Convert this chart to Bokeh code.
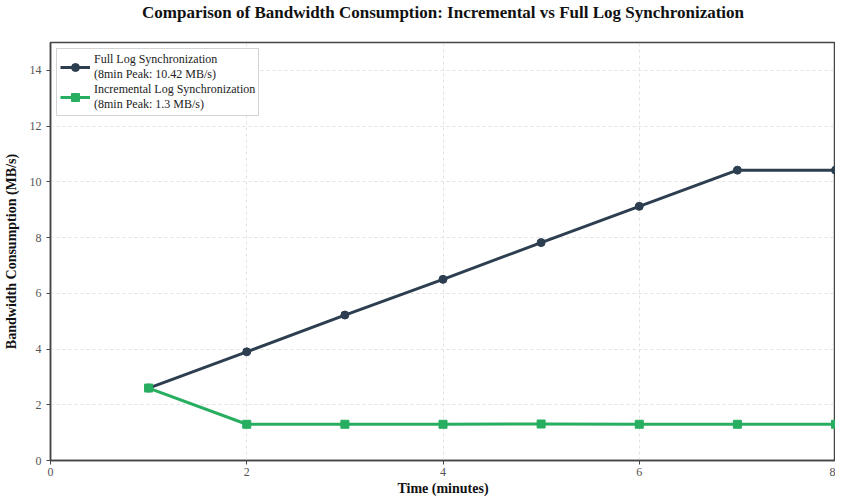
from bokeh.plotting import figure
from bokeh.models import Range1d, FixedTicker, Legend, LegendItem, Title
from bokeh.embed import file_html
from bokeh.resources import INLINE

minutes = [1, 2, 3, 4, 5, 6, 7, 8]
full_sync = [2.6, 3.9, 5.22, 6.5, 7.82, 9.12, 10.42, 10.42]
incremental_sync = [2.6, 1.3, 1.3, 1.3, 1.31, 1.3, 1.3, 1.3]
x_ticks = [0, 2, 4, 6, 8]
y_ticks = [0, 2, 4, 6, 8, 10, 12, 14]
title_text = "Comparison of Bandwidth Consumption: Incremental vs Full Log Synchronization"

FONT = "Liberation Serif"
NAVY = "#2c3e50"
GREEN = "#27ae60"

p = figure(width=835, height=498, output_backend="svg", toolbar_location=None,
           x_range=Range1d(0, 8), y_range=Range1d(0, 15),
           min_border_left=42, min_border_right=0, min_border_top=0, min_border_bottom=30)
p.title_location = None

spacer = Title(text=" ", text_font_size="12px", standoff=5)
p.add_layout(spacer, "above")
main_title = Title(text=title_text, align="center", text_font=FONT, text_font_size="17px",
                   text_font_style="bold", text_color="#111111", standoff=0, offset=0)
p.add_layout(main_title, "above")

p.outline_line_color = "#444444"
p.outline_line_width = 1.5

for ax in (p.xaxis[0], p.yaxis[0]):
    ax.axis_label_text_font = FONT
    ax.axis_label_text_font_style = "bold"
    ax.axis_label_text_font_size = "14px"
    ax.axis_label_text_color = "#111111"
    ax.major_label_text_font = FONT
    ax.major_label_text_font_size = "12px"
    ax.major_label_text_color = "#555555"
    ax.axis_line_color = "#444444"
    ax.axis_line_width = 1.5
    ax.major_tick_line_color = "#444444"
    ax.major_tick_out = 4
    ax.major_tick_in = 0
    ax.minor_tick_line_color = None

p.xaxis.axis_label = "Time (minutes)"
p.yaxis.axis_label = "Bandwidth Consumption (MB/s)"
p.xaxis[0].ticker = FixedTicker(ticks=x_ticks)
p.yaxis[0].ticker = FixedTicker(ticks=y_ticks)
p.xaxis.major_label_standoff = 3
p.xaxis.axis_label_standoff = 2
p.yaxis.axis_label_standoff = 8

p.xgrid.grid_line_color = "#e2e2e2"
p.ygrid.grid_line_color = "#e2e2e2"
p.xgrid.grid_line_dash = "3 3"
p.ygrid.grid_line_dash = "3 3"
p.xgrid.ticker = FixedTicker(ticks=x_ticks)
p.ygrid.ticker = FixedTicker(ticks=y_ticks)

l1 = p.line(minutes, full_sync, line_color=NAVY, line_width=3)
m1 = p.scatter(minutes, full_sync, marker="circle", size=8, fill_color=NAVY, line_color=NAVY)
l2 = p.line(minutes, incremental_sync, line_color=GREEN, line_width=3)
m2 = p.scatter(minutes, incremental_sync, marker="square", size=8, fill_color=GREEN, line_color=GREEN)

legend = Legend(items=[
    LegendItem(label="Full Log Synchronization\n(8min Peak: 10.42 MB/s)", renderers=[l1, m1]),
    LegendItem(label="Incremental Log Synchronization\n(8min Peak: 1.3 MB/s)", renderers=[l2, m2]),
], location="top_left")
legend.label_text_font = FONT
legend.label_text_font_size = "12px"
legend.label_text_color = "#222222"
legend.border_line_color = "#aaaaaa"
legend.border_line_width = 1
legend.background_fill_alpha = 1
legend.margin = 6
legend.padding = 3
legend.spacing = 0
legend.glyph_width = 30
legend.label_standoff = 4
p.add_layout(legend)

open("out.html", "w").write(file_html(p, INLINE))
